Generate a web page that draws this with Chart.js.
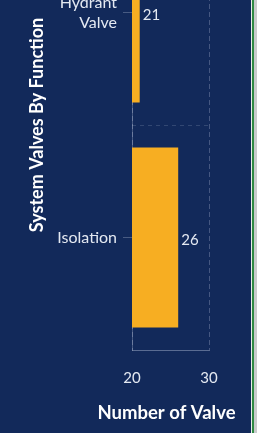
<!DOCTYPE html>
<html><head><meta charset="utf-8">
<script src="https://cdn.jsdelivr.net/npm/chart.js@4"></script>
<style>
html,body{margin:0;padding:0;background:#12295a;overflow:hidden;width:257px;height:433px;}
#wrap{position:absolute;left:0;top:0;width:251px;height:433px;overflow:hidden;background:#12295a;}
#c{position:absolute;left:0;top:-100px;}
#edge{position:absolute;left:251px;top:0;width:6px;height:433px;background:linear-gradient(to right,#e8efe8 0,#e8efe8 1px,#2f8a44 1px,#2f8a44 3px,#c9cccc 3px,#c9cccc 6px);}
</style></head>
<body>
<div id="wrap"><canvas id="c" width="251" height="533"></canvas></div>
<div id="edge"></div>
<script>
const categories = [["Hydrant", "Valve"], "Isolation"];
const valveCounts = [21, 26];
const xTickValues = [20, 30];
const xTitle = "Number of Valve";
const yTitle = "System Valves By Function";

const FONT = "Lato, 'Open Sans', sans-serif";
const TXT = "#e4e9f2";
const GRID = "rgba(200,210,230,0.28)";

const valueLabels = {
  id: "valueLabels",
  afterDatasetsDraw(chart) {
    const ctx = chart.ctx;
    const meta = chart.getDatasetMeta(0);
    ctx.save();
    ctx.font = "15px " + FONT;
    ctx.fillStyle = TXT;
    ctx.textAlign = "left";
    ctx.textBaseline = "middle";
    meta.data.forEach((el, i) => {
      ctx.fillText(String(chart.data.datasets[0].data[i]), el.x + 3, el.y + 3);
    });
    ctx.restore();
  }
};
const separators = {
  id: "separators",
  beforeDatasetsDraw(chart) {
    const ctx = chart.ctx, ys = chart.scales.y, a = chart.chartArea;
    ctx.save();
    ctx.strokeStyle = "rgba(200,210,230,0.18)";
    ctx.lineWidth = 1;
    ctx.setLineDash([4, 4]);
    for (let i = 0; i < categories.length - 1; i++) {
      const y = Math.round((ys.getPixelForValue(i) + ys.getPixelForValue(i + 1)) / 2) + 0.5;
      ctx.beginPath(); ctx.moveTo(a.left, y); ctx.lineTo(a.right, y); ctx.stroke();
    }
    ctx.restore();
  }
};
const xAxisTitle = {
  id: "xAxisTitle",
  afterDraw(chart) {
    const ctx = chart.ctx, a = chart.chartArea;
    ctx.save();
    ctx.font = "bold 18.5px " + FONT;
    ctx.fillStyle = "#ffffff";
    ctx.textAlign = "center";
    ctx.textBaseline = "middle";
    ctx.fillText(xTitle, (a.left + a.right) / 2 - 4, chart.height - 20);
    ctx.restore();
  }
};

new Chart(document.getElementById("c"), {
  type: "bar",
  data: {
    labels: categories,
    datasets: [{
      data: valveCounts,
      backgroundColor: "#f7ae22",
      borderWidth: 0,
      barPercentage: 1,
      categoryPercentage: 0.8
    }]
  },
  options: {
    indexAxis: "y",
    responsive: false,
    animation: false,
    devicePixelRatio: 1,
    layout: { padding: { left: 0, right: 42, top: 0, bottom: 0 } },
    plugins: { legend: { display: false }, tooltip: { enabled: false } },
    scales: {
      x: {
        min: xTickValues[0],
        max: xTickValues[xTickValues.length - 1],
        afterBuildTicks(s) { s.ticks = xTickValues.map(v => ({ value: v })); },
        afterFit(s) { s.height = 83; s.paddingLeft = 0; s.paddingRight = 0; },
        grid: { color: GRID, drawTicks: false, lineWidth: 1 },
        border: { color: "rgba(200,210,230,0.4)", dash: [5, 3] },
        ticks: { color: TXT, font: { family: FONT, size: 15 }, padding: 19 },
        title: { display: false }
      },
      y: {
        afterFit(s) { s.width = 132; s.paddingTop = 0; s.paddingBottom = 0; },
        grid: { offset: false, drawOnChartArea: false, drawTicks: true, tickLength: 9, color: "rgba(200,210,230,0.3)" },
        border: { color: "rgba(200,210,230,0.3)" },
        ticks: { color: TXT, font: { family: FONT, size: 16, lineHeight: 1.25 }, padding: 6 },
        title: { display: true, text: yTitle, color: "#ffffff",
                 font: { family: FONT, size: 18, weight: "bold", lineHeight: 1.2 }, padding: { top: 26, bottom: 0 } }
      }
    }
  },
  plugins: [separators, valueLabels, xAxisTitle]
});
</script>
</body></html>
